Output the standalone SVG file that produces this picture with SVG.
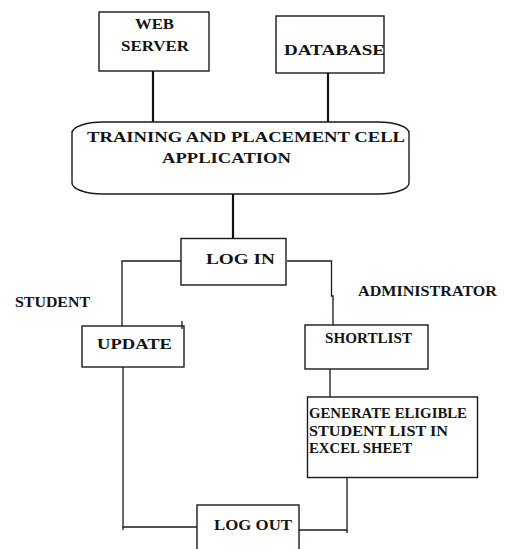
<svg xmlns="http://www.w3.org/2000/svg" width="508" height="549" viewBox="0 0 508 549">
<style>
.box{fill:#fff;stroke:#1a1a1a;stroke-width:1.4}
.t{font-family:"Liberation Serif","Times New Roman",serif;font-weight:bold;fill:#141414;font-size:15px}
.c{fill:none;stroke:#1a1a1a;stroke-width:1.3}
.ct{fill:none;stroke:#111;stroke-width:2.2}
</style>
<rect width="508" height="549" fill="#fff"/>
<g id="connectors">
<line class="ct" x1="153" y1="71" x2="153" y2="122"/>
<line class="ct" x1="328" y1="73" x2="328" y2="122"/>
<line class="ct" x1="233" y1="194" x2="233" y2="239"/>
<polyline class="c" points="181,261 122,261 122,326"/>
<polyline class="c" points="287,261 331.5,261 331.5,296 333,296 333,325"/>
<line class="c" x1="330" y1="369" x2="330" y2="397"/>
<polyline class="c" points="123,367 123,527 197,527"/>
<polyline class="c" points="299,530 347,530 347,477"/>
<line class="c" x1="347" y1="530" x2="347" y2="533"/>
<line class="c" x1="123" y1="527" x2="123" y2="530"/>
</g>
<g id="web-server">
<rect class="box" x="99" y="12" width="110" height="59"/>
<text class="t" x="135" y="29" textLength="39" lengthAdjust="spacingAndGlyphs" font-size="16">WEB</text>
<text class="t" x="121" y="51" textLength="68" lengthAdjust="spacingAndGlyphs" font-size="16">SERVER</text>
</g>
<g id="database">
<rect class="box" x="276" y="16" width="108" height="57"/>
<text class="t" x="284" y="55" textLength="101" lengthAdjust="spacingAndGlyphs" font-size="16">DATABASE</text>
</g>
<g id="application">
<rect class="box" x="72" y="122" width="337" height="72" rx="31" ry="11"/>
<text class="t" x="87" y="142" textLength="318" lengthAdjust="spacingAndGlyphs">TRAINING AND PLACEMENT CELL</text>
<text class="t" x="162" y="163" textLength="129" lengthAdjust="spacingAndGlyphs">APPLICATION</text>
</g>
<g id="login">
<rect class="box" x="181" y="238.5" width="105" height="46.5"/>
<text class="t" x="206" y="264" textLength="69" lengthAdjust="spacingAndGlyphs" font-size="16">LOG IN</text>
</g>
<g id="student-label">
<text class="t" x="15" y="307" textLength="75" lengthAdjust="spacingAndGlyphs" font-size="14">STUDENT</text>
</g>
<g id="administrator-label">
<text class="t" x="358" y="296" textLength="139" lengthAdjust="spacingAndGlyphs" font-size="14">ADMINISTRATOR</text>
</g>
<g id="update">
<rect class="box" x="82" y="326" width="102" height="41"/>
<line class="c" x1="182" y1="321" x2="182" y2="329"/>
<text class="t" x="97" y="349" textLength="75" lengthAdjust="spacingAndGlyphs">UPDATE</text>
</g>
<g id="shortlist">
<rect class="box" x="305" y="325" width="123" height="44"/>
<text class="t" x="325" y="343" textLength="87" lengthAdjust="spacingAndGlyphs" font-size="14">SHORTLIST</text>
</g>
<g id="generate">
<rect class="box" x="307.5" y="397" width="170" height="80.5"/>
<text class="t" x="309" y="418" textLength="158" lengthAdjust="spacingAndGlyphs">GENERATE ELIGIBLE</text>
<text class="t" x="309" y="436" textLength="139" lengthAdjust="spacingAndGlyphs">STUDENT LIST IN</text>
<text class="t" x="309" y="453" textLength="103" lengthAdjust="spacingAndGlyphs">EXCEL SHEET</text>
</g>
<g id="logout">
<rect class="box" x="197" y="505" width="102" height="60"/>
<text class="t" x="214" y="530" textLength="78" lengthAdjust="spacingAndGlyphs">LOG OUT</text>
</g>
</svg>
